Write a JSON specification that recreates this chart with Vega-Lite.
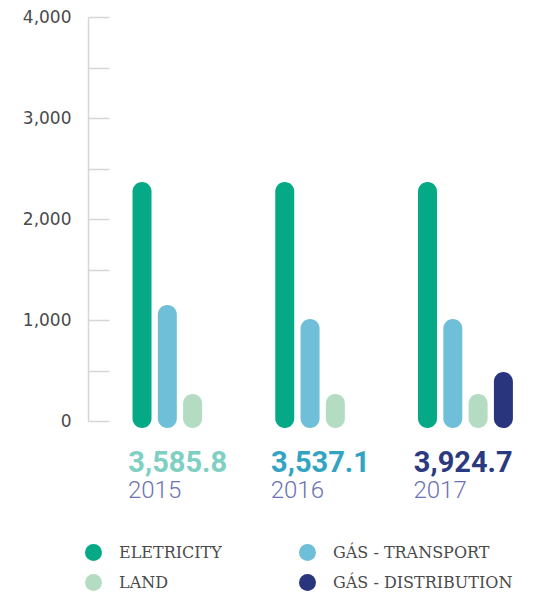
{
  "$schema": "https://vega.github.io/schema/vega-lite/v6.json",
  "width": 440,
  "height": 404,
  "autosize": {"type": "none"},
  "padding": {"left": 88, "top": 17, "right": 18, "bottom": 172},
  "background": "white",
  "config": {"view": {"stroke": null}},
  "datasets": {
    "bars": [
      {"year": "2015", "segment": "ELETRICITY", "value": 2366},
      {"year": "2015", "segment": "GÁS - TRANSPORT", "value": 1149},
      {"year": "2015", "segment": "LAND", "value": 267},
      {"year": "2016", "segment": "ELETRICITY", "value": 2366},
      {"year": "2016", "segment": "GÁS - TRANSPORT", "value": 1010},
      {"year": "2016", "segment": "LAND", "value": 267},
      {"year": "2017", "segment": "ELETRICITY", "value": 2366},
      {"year": "2017", "segment": "GÁS - TRANSPORT", "value": 1010},
      {"year": "2017", "segment": "LAND", "value": 267},
      {"year": "2017", "segment": "GÁS - DISTRIBUTION", "value": 485}
    ],
    "totals": [
      {"year": "2015", "total": 3585.8},
      {"year": "2016", "total": 3537.1},
      {"year": "2017", "total": 3924.7}
    ]
  },
  "layer": [
    {
      "data": {"name": "bars"},
      "mark": {"type": "bar", "width": 19, "cornerRadius": 9.5},
      "encoding": {
        "x": {
          "field": "year", "type": "nominal",
          "scale": {"paddingInner": 0.291, "paddingOuter": 0.1867, "align": 0.776},
          "axis": {
            "title": null, "domain": false, "ticks": false, "tickSize": 0,
            "labelAlign": "left", "labelBaseline": "alphabetic",
            "labelPadding": 76, "labelFontSize": 24, "labelFont": "Roboto",
            "labelFontWeight": 300, "labelColor": "#6b73b3", "labelAngle": 0, "labelOffset": -52
          }
        },
        "xOffset": {
          "field": "segment", "type": "nominal",
          "sort": ["ELETRICITY", "GÁS - TRANSPORT", "LAND", "GÁS - DISTRIBUTION"],
          "scale": {"domain": ["ELETRICITY", "GÁS - TRANSPORT", "LAND", "GÁS - DISTRIBUTION"], "paddingInner": 0, "paddingOuter": 0}
        },
        "y": {
          "field": "value", "type": "quantitative",
          "scale": {"domain": [0, 4000], "nice": false},
          "axis": {
            "title": null, "grid": false,
            "values": [0, 500, 1000, 1500, 2000, 2500, 3000, 3500, 4000],
            "labelExpr": "datum.value % 1000 === 0 ? format(datum.value, ',') : ''",
            "tickSize": -21, "tickColor": "#d6d6d6", "tickWidth": 1.5,
            "domainColor": "#d6d6d6", "domainWidth": 1.5,
            "labelPadding": 38, "labelFontSize": 17, "labelFont": "DejaVu Sans",
            "labelColor": "#4a4a4a"
          }
        },
        "y2": {"datum": -70},
        "color": {
          "field": "segment", "type": "nominal",
          "scale": {
            "domain": ["ELETRICITY", "GÁS - TRANSPORT", "LAND", "GÁS - DISTRIBUTION"],
            "range": ["#05a985", "#6fbfd8", "#b3dcc2", "#29367e"]
          },
          "legend": {
            "title": null, "orient": "none", "legendX": -3, "legendY": 527,
            "direction": "horizontal", "columns": 2, "symbolType": "circle",
            "symbolSize": 289, "symbolStrokeWidth": 0, "symbolOpacity": 1,
            "labelFont": "DejaVu Serif", "labelFontSize": 16, "labelColor": "#4a4a4a",
            "labelOffset": 17, "rowPadding": 13, "columnPadding": 77, "padding": 0,
            "labelLimit": 300
          }
        }
      }
    },
    {
      "data": {"name": "totals"},
      "mark": {"type": "text", "align": "left", "baseline": "alphabetic", "dy": 51, "dx": -1, "fontSize": 29, "fontWeight": "bold", "font": "Roboto"},
      "encoding": {
        "x": {"field": "year", "type": "nominal", "bandPosition": 0},
        "y": {"datum": 0, "type": "quantitative"},
        "text": {"field": "total", "type": "quantitative", "format": ",.1f"},
        "color": {
          "field": "year", "type": "nominal",
          "scale": {"domain": ["2015", "2016", "2017"], "range": ["#7fcfc2", "#32a4c2", "#2b3a7f"]},
          "legend": null
        }
      }
    }
  ],
  "resolve": {"scale": {"color": "independent"}}
}
